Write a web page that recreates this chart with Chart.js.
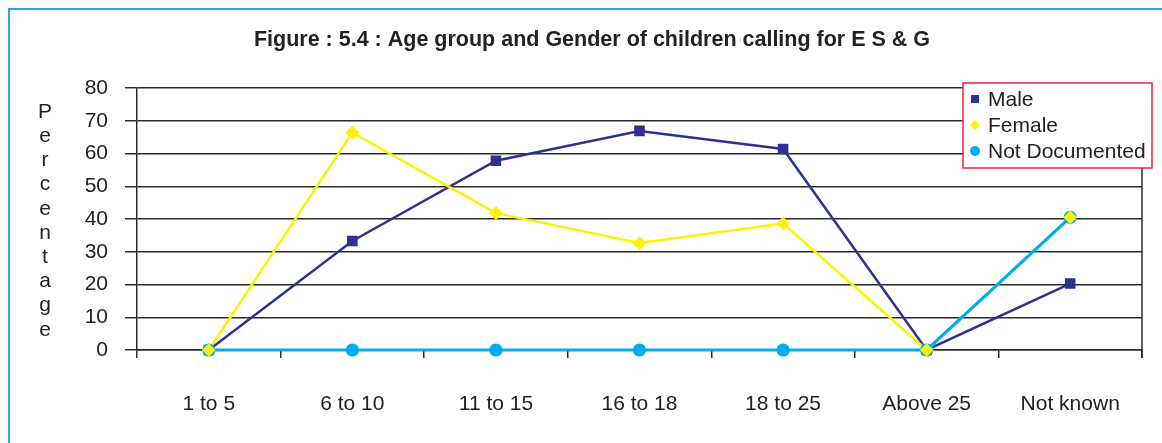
<!DOCTYPE html>
<html>
<head>
<meta charset="utf-8">
<script src="https://cdn.jsdelivr.net/npm/chart.js@4.4.1/dist/chart.umd.min.js"></script>
<style>
  html, body { margin: 0; padding: 0; background: #fff; overflow: hidden; }
  #wrap { position: relative; width: 1162px; height: 443px; overflow: hidden; }
  #frame { position: absolute; left: 8px; top: 8px; width: 1300px; height: 600px; border: 2px solid #29a8df; }
  canvas { position: absolute; left: 0; top: 0; }
</style>
</head>
<body>
<div id="wrap">
  <div id="frame"></div>
  <canvas id="myChart" width="1162" height="443"></canvas>
</div>
<script>
const categories = ['1 to 5', '6 to 10', '11 to 15', '16 to 18', '18 to 25', 'Above 25', 'Not known'];
const maleValues = [0, 33.3, 57.8, 66.9, 61.4, 0, 20.3];
const femaleValues = [0, 66.4, 41.8, 32.7, 38.6, 0, 40.5];
const notDocumentedValues = [0, 0, 0, 0, 0, 0, 40.5];
const yTicks = [0, 10, 20, 30, 40, 50, 60, 70, 80];

const titleText = 'Figure : 5.4 : Age group and Gender of children calling for E S & G';
const yTitle = 'Percentage';
const gridColor = '#2b2b2b';
const font = '"Liberation Sans", Arial, sans-serif';

const colMale = '#2e3192';
const colFemale = '#fff200';
const colNotDoc = '#00aeef';

// title, stacked y label, right border, boxed legend
const extras = {
  id: 'extras',
  beforeDatasetsDraw(chart) {
    const ctx = chart.ctx, a = chart.chartArea;
    ctx.save();
    ctx.strokeStyle = gridColor;
    ctx.lineWidth = 1.5;
    ctx.beginPath();
    ctx.moveTo(a.right, a.top);
    ctx.lineTo(a.right, a.bottom + 8);
    ctx.stroke();
    ctx.restore();
  },
  afterDatasetsDraw(chart) {
    // female markers sit on top of the other series, its line does not
    const meta = chart.getDatasetMeta(1);
    meta.data.forEach(p => p.draw(chart.ctx, chart.chartArea));
  },
  afterDraw(chart) {
    const ctx = chart.ctx;
    ctx.save();
    ctx.fillStyle = '#222';
    ctx.font = 'bold 21.5px ' + font;
    ctx.textAlign = 'center';
    ctx.textBaseline = 'middle';
    ctx.fillText(titleText, 592, 40);

    ctx.font = '21px ' + font;
    [...yTitle].forEach((ch, i) => {
      ctx.fillText(ch, 45, 112 + i * 24.2);
    });

    // legend box
    const lx = 963, ly = 83, lw = 189, lh = 85;
    ctx.fillStyle = '#fff';
    ctx.fillRect(lx, ly, lw, lh);
    ctx.strokeStyle = '#e8262d';
    ctx.lineWidth = 1.5;
    ctx.strokeRect(lx, ly, lw, lh);

    ctx.textAlign = 'left';
    ctx.font = '21px ' + font;
    chart.data.datasets.forEach((ds, i) => {
      const y = 99 + i * 26;
      ctx.fillStyle = ds.borderColor;
      ctx.beginPath();
      if (ds.pointStyle === 'rect') {
        ctx.rect(971, y - 4, 8, 8);
      } else if (ds.pointStyle === 'rectRot') {
        ctx.moveTo(975, y - 5); ctx.lineTo(980, y); ctx.lineTo(975, y + 5); ctx.lineTo(970, y);
        ctx.closePath();
      } else {
        ctx.arc(975, y, 5, 0, Math.PI * 2);
      }
      ctx.fill();
      ctx.fillStyle = '#222';
      ctx.fillText(ds.label, 988, y + 1);
    });
    ctx.restore();
  }
};

const ctx = document.getElementById('myChart');
const myChart = new Chart(ctx, {
  type: 'line',
  data: {
    labels: categories,
    datasets: [{
      label: 'Male',
      data: maleValues,
      borderColor: colMale,
      backgroundColor: colMale,
      borderWidth: 2.5,
      pointStyle: 'rect',
      pointRadius: 5.7,
      clip: false,
      order: 2
    }, {
      label: 'Female',
      data: femaleValues,
      borderColor: colFemale,
      backgroundColor: colFemale,
      borderWidth: 2.5,
      pointStyle: 'rectRot',
      pointRadius: 5,
      clip: false,
      order: 1
    }, {
      label: 'Not Documented',
      data: notDocumentedValues,
      borderColor: colNotDoc,
      backgroundColor: colNotDoc,
      borderWidth: 3.2,
      pointStyle: 'circle',
      pointRadius: 5,
      clip: false,
      order: 0
    }]
  },
  options: {
    responsive: false,
    animation: false,
    layout: { padding: { top: 88, right: 20, left: 0, bottom: 0 } },
    elements: { line: { tension: 0 }, point: { borderWidth: 0 } },
    plugins: {
      legend: { display: false },
      title: { display: false },
      tooltip: { enabled: false }
    },
    scales: {
      x: {
        offset: true,
        afterFit(scale) { scale.height = 93; },
        grid: { drawOnChartArea: false, drawTicks: true, tickLength: 8, color: gridColor, lineWidth: 1.5, offset: true },
        border: { display: true, color: gridColor, width: 1.5 },
        ticks: { padding: 34, color: '#222', font: { family: font, size: 21 } }
      },
      y: {
        min: 0,
        max: 80,
        afterFit(scale) { scale.width = 137; },
        afterBuildTicks(scale) { scale.ticks = yTicks.map(v => ({ value: v })); },
        grid: { color: gridColor, lineWidth: 1.5, tickLength: 12 },
        border: { display: true, color: gridColor, width: 1.5 },
        ticks: { padding: 17, color: '#222', font: { family: font, size: 21 } }
      }
    }
  },
  plugins: [extras]
});
</script>
</body>
</html>
